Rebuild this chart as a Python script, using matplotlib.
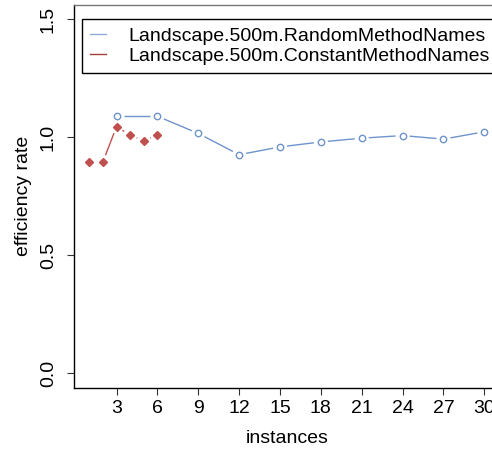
import numpy as np
import matplotlib
matplotlib.use("Agg")
import matplotlib.pyplot as plt
from matplotlib.lines import Line2D

plt.rcParams['font.family'] = ['Liberation Sans', 'DejaVu Sans']

# efficiency per instance count
random_x = [3, 6, 9, 12, 15, 18, 21, 24, 27, 30]
random_y = [1.089, 1.089, 1.016, 0.926, 0.959, 0.980, 0.996, 1.007, 0.992, 1.023]
constant_x = [1, 2, 3, 4, 5, 6]
constant_y = [0.896, 0.896, 1.045, 1.009, 0.985, 1.009]

series_names = ['Landscape.500m.RandomMethodNames', 'Landscape.500m.ConstantMethodNames']
x_ticks = [3, 6, 9, 12, 15, 18, 21, 24, 27, 30]
y_ticks = [0.0, 0.5, 1.0, 1.5]

BLUE = '#6F93CB'
RED = '#C0504D'
FS = 14


def plot_both(ax, xs, ys, color, marker, ms, mfc, gap=7.0):
    # points joined by segments that stop short of each marker
    ax.plot(xs, ys, linestyle='none', marker=marker, markersize=ms,
            markerfacecolor=mfc, markeredgecolor=color, markeredgewidth=1.0)
    pts = ax.transData.transform(np.column_stack([xs, ys]))
    inv = ax.transData.inverted()
    for p0, p1 in zip(pts[:-1], pts[1:]):
        d = p1 - p0
        length = np.hypot(*d)
        if length <= 2 * gap:
            continue
        u = d / length
        seg = inv.transform(np.array([p0 + u * gap, p1 - u * gap]))
        ax.plot(seg[:, 0], seg[:, 1], color=color, linewidth=1.0,
                solid_capstyle='butt')


fig = plt.figure(figsize=(4.92, 4.5), dpi=100)
ax = fig.add_axes([73.5 / 492, 62.5 / 450, 426.6 / 492, 382.5 / 450])
ax.set_xlim(-0.16, 31.16)
ax.set_ylim(-0.06, 1.56)

plot_both(ax, random_x, random_y, BLUE, 'o', 4.6, 'white')
plot_both(ax, constant_x, constant_y, RED, 'D', 3.6, RED)

ax.set_xticks(x_ticks)
ax.set_xticklabels([str(t) for t in x_ticks])
ax.set_yticks(y_ticks)
ax.set_yticklabels([f'{t:.1f}' for t in y_ticks], rotation=90, va='center')
ax.tick_params(direction='out', length=5, width=0.8, labelsize=FS, color='#333333')
ax.tick_params(axis='x', pad=4)
ax.tick_params(axis='y', pad=7)

for side in ['left', 'bottom', 'top', 'right']:
    ax.spines[side].set_linewidth(1.0)
    ax.spines[side].set_color('black')
ax.spines['top'].set_color('#777777')

ax.set_xlabel('instances', fontsize=FS)
ax.xaxis.set_label_coords(0.5, -0.111)
ax.set_ylabel('efficiency rate', fontsize=FS)
ax.yaxis.set_label_coords(-0.097, 0.5)

handles = [Line2D([], [], color='#8FAADC', linewidth=1.0),
           Line2D([], [], color='#A0403D', linewidth=1.0)]
leg = ax.legend(handles, series_names, loc='upper left',
                bbox_to_anchor=(0.0206, 0.9626), borderaxespad=0,
                fontsize=FS, handlelength=0.8, handletextpad=1.17,
                borderpad=0.4, labelspacing=0.15, fancybox=False,
                framealpha=1, edgecolor='black')
leg.get_frame().set_linewidth(1.0)

fig.savefig('out.png', dpi=100)
